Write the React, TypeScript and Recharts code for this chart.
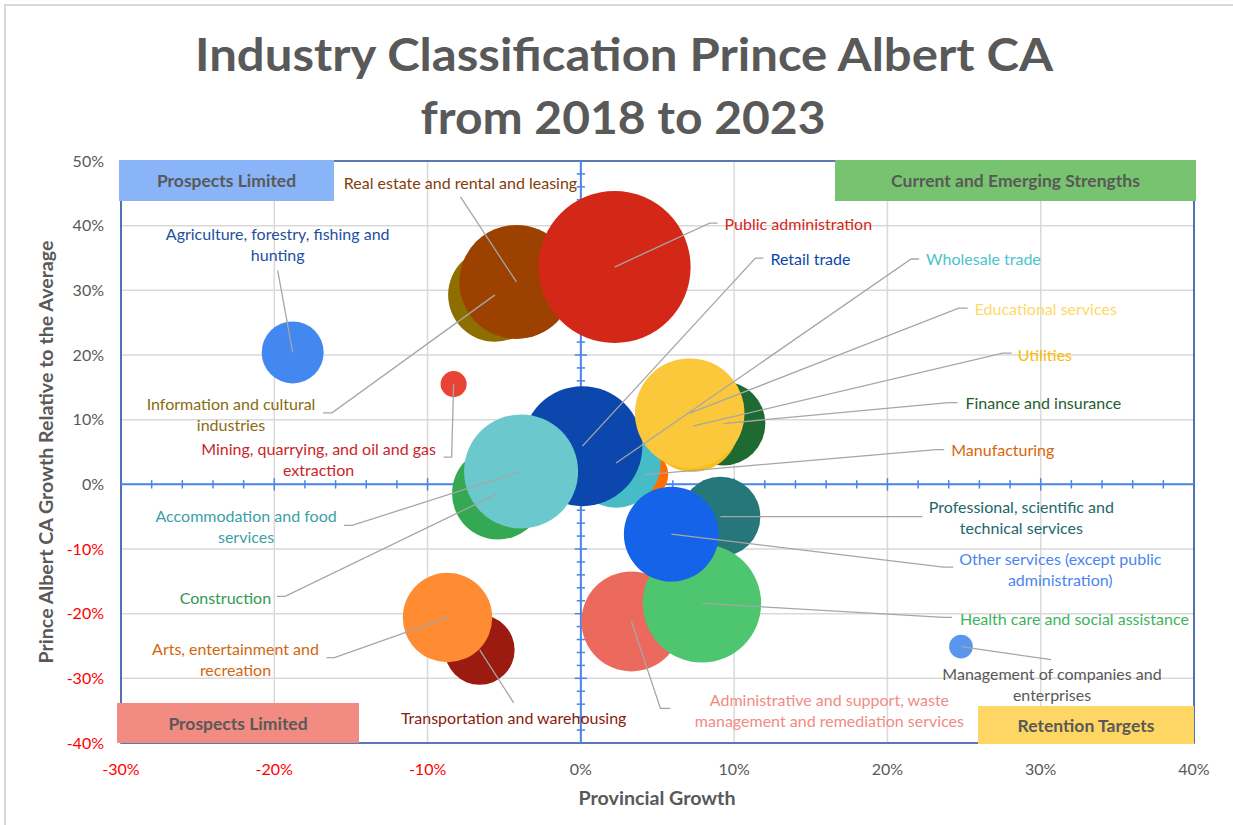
import React from 'react';
import {
  ScatterChart,
  Scatter,
  XAxis,
  YAxis,
  ZAxis,
  CartesianGrid,
  ReferenceLine,
  ReferenceArea,
} from 'recharts';

// ---------- DATA (draw order: first = back) ----------
const industries = [
  'Information and cultural industries',
  'Real estate and rental and leasing',
  'Public administration',
  'Manufacturing',
  'Wholesale trade',
  'Retail trade',
  'Construction',
  'Accommodation and food services',
  'Finance and insurance',
  'Utilities',
  'Educational services',
  'Professional, scientific and technical services',
  'Administrative and support, waste management and remediation services',
  'Health care and social assistance',
  'Other services (except public administration)',
  'Transportation and warehousing',
  'Arts, entertainment and recreation',
  'Agriculture, forestry, fishing and hunting',
  'Mining, quarrying, and oil and gas extraction',
  'Management of companies and enterprises',
];

// Provincial growth (%)
const provincialGrowth = [-5.6, -4.2, 2.2, 4.2, 2.3, 0.1, -5.4, -3.9, 9.3, 7.3, 7.1, 9.1, 3.3, 7.9, 5.9, -6.6, -8.7, -18.8, -8.3, 24.8];
// Prince Albert CA growth relative to the average (%)
const relativeGrowth = [29.3, 31.3, 33.6, 1.5, 3.3, 5.9, -1.4, 2.0, 9.4, 9.0, 11.0, -5.0, -21.2, -18.4, -7.7, -25.6, -20.6, 20.4, 15.5, -25.1];
// Bubble size (relative employment)
const bubbleSize = [2.2, 3.25, 5.78, 0.53, 2.0, 3.6, 2.12, 3.25, 1.76, 2.1, 3.0, 1.6, 2.5, 3.5, 2.25, 1.22, 2.0, 0.96, 0.17, 0.14];

const xTicks = [-30, -20, -10, 0, 10, 20, 30, 40];
const yTicks = [-40, -30, -20, -10, 0, 10, 20, 30, 40, 50];

// ---------- STYLES ----------
const bubbleColors = [
  '#8F6E00', '#9C4100', '#D32718', '#FF6D00', '#46BDC6', '#0B47AD', '#34A853', '#6BC9CE',
  '#1E6A33', '#F9BD1C', '#FAC83A', '#25777A', '#EC695D', '#4EC66F', '#1463E8', '#9B1B11',
  '#FF8C33', '#4387F0', '#EA4335', '#5A96EE',
];
const labelColors = [
  '#8A6A10', '#843C0C', '#D32718', '#D9650C', '#4BC3CC', '#0B47AD', '#34984F', '#3C9FA8',
  '#1E5E30', '#FBBC05', '#FFD966', '#22676A', '#F28B82', '#3DB45A', '#4A86F0', '#8A1A10',
  '#D2670F', '#1E4FA0', '#C8262A', '#595959',
];

// label layout: text lines, anchor, text offset (dx, dy of first line centre), leader polyline offsets
type LabelLayout = { lines: string[]; anchor: 'start' | 'middle' | 'end'; dx: number; dy: number; path: number[][] };
const labelLayout: LabelLayout[] = [
  { lines: ['Information and cultural', 'industries'], anchor: 'middle', dx: -264, dy: 109, path: [[-163, 118], [-172, 118]] },
  { lines: ['Real estate and rental and leasing'], anchor: 'middle', dx: -56, dy: -99, path: [[-56, -85]] },
  { lines: ['Public administration'], anchor: 'start', dx: 110, dy: -44, path: [[95, -44], [103, -44]] },
  { lines: ['Manufacturing'], anchor: 'start', dx: 306, dy: -25, path: [[291, -25], [299, -25]] },
  { lines: ['Wholesale trade'], anchor: 'start', dx: 310, dy: -204, path: [[295, -204], [303, -204]] },
  { lines: ['Retail trade'], anchor: 'start', dx: 188, dy: -188, path: [[173, -188], [181, -188]] },
  { lines: ['Construction'], anchor: 'end', dx: -227, dy: 104, path: [[-213, 103], [-221, 103]] },
  { lines: ['Accommodation and food', 'services'], anchor: 'middle', dx: -275, dy: 44, path: [[-169, 54], [-177, 54]] },
  { lines: ['Finance and insurance'], anchor: 'start', dx: 242, dy: -21, path: [[225, -21], [234, -21]] },
  { lines: ['Utilities'], anchor: 'start', dx: 325, dy: -72, path: [[310, -73], [319, -73]] },
  { lines: ['Educational services'], anchor: 'start', dx: 285, dy: -105, path: [[269, -105], [278, -105]] },
  { lines: ['Professional, scientific and', 'technical services'], anchor: 'middle', dx: 301, dy: -10, path: [[202, 0]] },
  { lines: ['Administrative and support, waste', 'management and remediation services'], anchor: 'middle', dx: 198, dy: 78, path: [[29, 87], [39, 87]] },
  { lines: ['Health care and social assistance'], anchor: 'start', dx: 258, dy: 15, path: [[242, 14], [250, 14]] },
  { lines: ['Other services (except public', 'administration)'], anchor: 'middle', dx: 389, dy: 24, path: [[272, 33], [282, 33]] },
  { lines: ['Transportation and warehousing'], anchor: 'middle', dx: 34, dy: 68, path: [[34, 53]] },
  { lines: ['Arts, entertainment and', 'recreation'], anchor: 'middle', dx: -212, dy: 31, path: [[-113, 40], [-121, 40]] },
  { lines: ['Agriculture, forestry, fishing and', 'hunting'], anchor: 'middle', dx: -15, dy: -119, path: [[-15, -82]] },
  { lines: ['Mining, quarrying, and oil and gas', 'extraction'], anchor: 'middle', dx: -135, dy: 64, path: [[-2, 73], [-10, 73]] },
  { lines: ['Management of companies and', 'enterprises'], anchor: 'middle', dx: 91, dy: 27, path: [[90, 13]] },
];

const rows = industries.map((name, i) => ({
  i,
  name,
  x: provincialGrowth[i],
  y: relativeGrowth[i],
  z: bubbleSize[i],
}));

const FONT = 'Lato, "Open Sans", sans-serif';
const GRAY = '#595959';
const AXIS_BLUE = '#4A86E8';

const LabelShape = (props: any) => {
  const { cx, cy, payload } = props;
  if (cx == null || cy == null || !payload) return <g />;
  const L = labelLayout[payload.i];
  const pts = [[cx, cy], ...L.path.map(([a, b]) => [cx + a, cy + b])];
  return (
    <g>
      <polyline
        points={pts.map((p) => p.join(',')).join(' ')}
        fill="none"
        stroke="#A6A6A6"
        strokeWidth={1.3}
      />
      <text
        fontFamily={FONT}
        fontSize={16}
        fill={labelColors[payload.i]}
        textAnchor={L.anchor}
      >
        {L.lines.map((t, k) => (
          <tspan key={k} x={cx + L.dx} y={cy + L.dy + k * 21} dominantBaseline="central">
            {t}
          </tspan>
        ))}
      </text>
    </g>
  );
};

const XTick = (props: any) => {
  const { x, y, payload } = props;
  const v = payload.value;
  return (
    <text x={x} y={y + 32} textAnchor="middle" fontFamily={FONT} fontSize={16} fill={v < 0 ? '#FF0000' : GRAY}>
      {`${v}%`}
    </text>
  );
};
const YTick = (props: any) => {
  const { x, y, payload } = props;
  const v = payload.value;
  return (
    <text x={x - 17} y={y} dy="0.35em" textAnchor="end" fontFamily={FONT} fontSize={16} fill={v < 0 ? '#FF0000' : GRAY}>
      {`${v}%`}
    </text>
  );
};

const xMinor: number[] = [];
for (let v = -28; v < 40; v += 2) xMinor.push(v);
const yMinor: number[] = [];
for (let v = -38; v < 50; v += 2) yMinor.push(v);

const boxes = [
  { text: 'Prospects Limited', left: 119, top: 160, width: 215, height: 41, bg: '#8AB4F8' },
  { text: 'Current and Emerging Strengths', left: 835, top: 160, width: 361, height: 41, bg: '#78C36F' },
  { text: 'Prospects Limited', left: 117, top: 703, width: 242, height: 40, bg: '#F28B82' },
  { text: 'Retention Targets', left: 978, top: 706, width: 216, height: 38, bg: '#FDD663' },
];

export default function App() {
  return (
    <div
      style={{
        position: 'fixed',
        left: 0,
        top: 0,
        width: 1233,
        height: 825,
        overflow: 'hidden',
        background: '#fff',
        fontFamily: FONT,
      }}
    >
      <div
        style={{
          position: 'absolute',
          left: 4,
          top: 4,
          width: 1229,
          height: 821,
          borderLeft: '2px solid #D9D9D9',
          borderTop: '2px solid #D9D9D9',
          boxSizing: 'border-box',
        }}
      />
      <div style={{ position: 'absolute', left: 0, top: 0 }}>
        <ScatterChart width={1233} height={825} margin={{ top: 161, right: 39, bottom: 42, left: 61 }}>
          <CartesianGrid stroke="#D9D9D9" strokeWidth={1.5} />
          <XAxis
            type="number"
            dataKey="x"
            domain={[-30, 40]}
            ticks={xTicks}
            tick={<XTick />}
            tickLine={false}
            axisLine={false}
            tickSize={0}
            tickMargin={0}
            height={40}
            allowDataOverflow
          />
          <YAxis
            type="number"
            dataKey="y"
            domain={[-40, 50]}
            ticks={yTicks}
            tick={<YTick />}
            tickLine={false}
            axisLine={false}
            tickSize={0}
            tickMargin={0}
            width={60}
            allowDataOverflow
          />
          <ZAxis type="number" dataKey="z" domain={[0, 6]} range={[0, 6000 * Math.PI]} />
          <ReferenceArea x1={-30} x2={40} y1={-40} y2={50} fill="none" stroke="#2E55A5" strokeWidth={1.6} />
          <ReferenceLine y={0} stroke={AXIS_BLUE} strokeWidth={2} />
          <ReferenceLine x={0} stroke={AXIS_BLUE} strokeWidth={2} />
          {xMinor.map((v) => (
            <ReferenceLine
              key={'xm' + v}
              segment={[
                { x: v, y: v % 10 === 0 ? -0.95 : -0.65 },
                { x: v, y: v % 10 === 0 ? 0.95 : 0.65 },
              ]}
              stroke={AXIS_BLUE}
              strokeWidth={1.5}
            />
          ))}
          {yMinor.map((v) => (
            <ReferenceLine
              key={'ym' + v}
              segment={[
                { x: v % 10 === 0 ? -0.4 : -0.27, y: v },
                { x: v % 10 === 0 ? 0.4 : 0.27, y: v },
              ]}
              stroke={AXIS_BLUE}
              strokeWidth={1.5}
            />
          ))}
          {rows.map((r) => (
            <Scatter
              key={r.name}
              name={r.name}
              data={[r]}
              fill={bubbleColors[r.i]}
              isAnimationActive={false}
            />
          ))}
          <Scatter name="labels" data={rows} shape={<LabelShape />} isAnimationActive={false} legendType="none" />
        </ScatterChart>
      </div>
      {boxes.map((b, k) => (
        <div
          key={k}
          style={{
            position: 'absolute',
            left: b.left,
            top: b.top,
            width: b.width,
            height: b.height,
            background: b.bg,
            color: GRAY,
            fontWeight: 700,
            fontSize: 17.5,
            display: 'flex',
            alignItems: 'center',
            justifyContent: 'center',
          }}
        >
          {b.text}
        </div>
      ))}
      <svg width={1233} height={825} style={{ position: 'absolute', left: 0, top: 0, pointerEvents: 'none' }}>
        <text x={624} y={71} textAnchor="middle" fontFamily={FONT} fontWeight={700} fontSize={46} fill={GRAY} textLength={858} lengthAdjust="spacingAndGlyphs">
          Industry Classification Prince Albert CA
        </text>
        <text x={623} y={134} textAnchor="middle" fontFamily={FONT} fontWeight={700} fontSize={46} fill={GRAY} textLength={405} lengthAdjust="spacingAndGlyphs">
          from 2018 to 2023
        </text>
        <text x={657} y={797} textAnchor="middle" dominantBaseline="central" fontFamily={FONT} fontWeight={700} fontSize={19} fill={GRAY} textLength={157} lengthAdjust="spacingAndGlyphs">
          Provincial Growth
        </text>
        <text
          x={0}
          y={0}
          transform="translate(46,452) rotate(-90)"
          textAnchor="middle"
          dominantBaseline="central"
          fontFamily={FONT}
          fontWeight={700}
          fontSize={18.5}
          fill={GRAY}
          textLength={423}
          lengthAdjust="spacingAndGlyphs"
        >
          Prince Albert CA Growth Relative to the Average
        </text>
      </svg>
    </div>
  );
}
